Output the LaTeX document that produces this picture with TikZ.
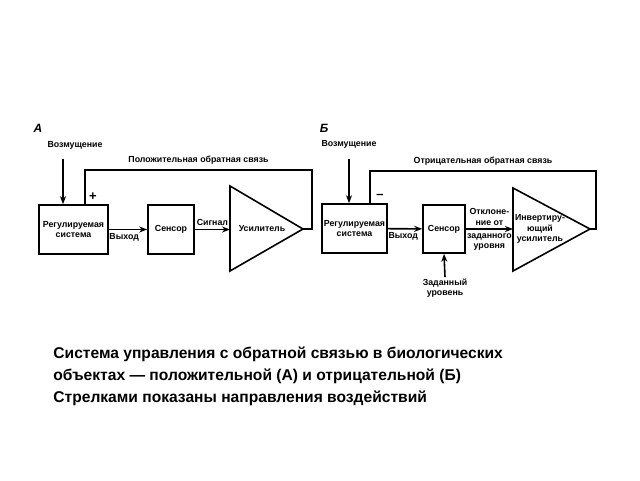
\documentclass[tikz,border=0pt]{standalone}
\usepackage{fontspec}
\setmainfont{Liberation Sans}
\usetikzlibrary{arrows.meta}

\tikzset{
  blk/.style={draw, line width=0.8pt, align=center, inner sep=0pt, font=\fontsize{4.4}{5}\selectfont\bfseries},
  lbl/.style={align=center, inner sep=0.5pt, font=\fontsize{4.4}{5.2}\selectfont\bfseries},
  sgn/.style={inner sep=0pt, font=\fontsize{6.5}{6.5}\selectfont\bfseries},
  wire/.style={line width=0.8pt},
}

\begin{document}
\begin{tikzpicture}[x=0.5pt, y=-0.5pt, >={Stealth[length=4pt,width=3pt]}]
            \useasboundingbox (0,0) rectangle (640,480);

            % panel A
            \node[lbl, font=\fontsize{6}{6}\selectfont\bfseries\itshape] (labA) at (38,128) {А};
            \node[lbl] (distA) at (75,145) {Возмущение};
            \coordinate (distAend) at (63,159);
            \node[blk, minimum width=34.5pt, minimum height=24.5pt] (regA) at (73.5,229.5) {Регулируемая\\система};
            \node[blk, minimum width=23pt, minimum height=24.5pt] (sensA) at (171,229.5) {Сенсор};
            \draw[wire] (230,186) -- (303,229) -- (230,271) -- cycle;
            \coordinate (ampAin) at (230,229.5);
            \coordinate (ampAout) at (303,229);
            \node[lbl] (ampA) at (262,229) {Усилитель};
            \coordinate (fbA) at (85,170);

            \draw[wire, ->] (distAend) to (distAend |- regA.north);
            \draw[wire, ->] (regA) to node[lbl, below=1pt, pos=0.4] {Выход} (sensA);
            \draw[wire, ->] (sensA) to node[lbl, above=1pt] {Сигнал} (ampAin);
            \draw[wire] (ampAout) -- ++(9,0) |- node[lbl, above, pos=0.75, yshift=2pt] {Положительная обратная связь} (fbA) -- (fbA |- regA.north);
            \node[sgn] (plusA) at (93,197) {+};

            % panel B
            \node[lbl, font=\fontsize{6}{6}\selectfont\bfseries\itshape] (labB) at (324,128) {Б};
            \node[lbl] (distB) at (349,144) {Возмущение};
            \coordinate (distBend) at (349,159);
            \node[blk, minimum width=32.5pt, minimum height=24.5pt] (regB) at (354.5,228.5) {Регулируемая\\система};
            \node[blk, minimum width=21pt, minimum height=24pt] (sensB) at (444,229) {Сенсор};
            \draw[wire] (513,188) -- (590,229) -- (513,271) -- cycle;
            \coordinate (ampBin) at (513,229);
            \coordinate (ampBout) at (590,229);
            \node[lbl] (ampB) at (540,229) {Инвертиру-\\ющий\\усилитель};
            \coordinate (fbB) at (370,171);
            \node[lbl] (setB) at (445,288) {Заданный\\уровень};

            \draw[wire, ->] (distBend) to (distBend |- regB.north);
            \draw[wire, ->] (regB) to node[lbl, below=1pt, pos=0.45] {Выход} (sensB);
            \draw[wire, ->] (sensB) to node[lbl, above=1pt] {Отклоне-\\ние от} node[lbl, below=1.5pt] {заданного\\уровня} (ampBin);
            \draw[wire] (ampBout) -- ++(6,0) |- node[lbl, above, pos=0.75, yshift=2pt] {Отрицательная обратная связь} (fbB) -- (fbB |- regB.north);
            \node[sgn] (minusB) at (380,196) {–};
            \draw[wire, ->] (setB.north) to (sensB.south);

            % caption
            \node[anchor=north west, align=left, inner sep=0pt, font=\fontsize{7.8}{11}\selectfont\bfseries] (capt) at (53,346)
              {Система управления с обратной связью в биологических\\объектах — положительной (А) и отрицательной (Б)\\Стрелками показаны направления воздействий};
        \end{tikzpicture}
\end{document}
